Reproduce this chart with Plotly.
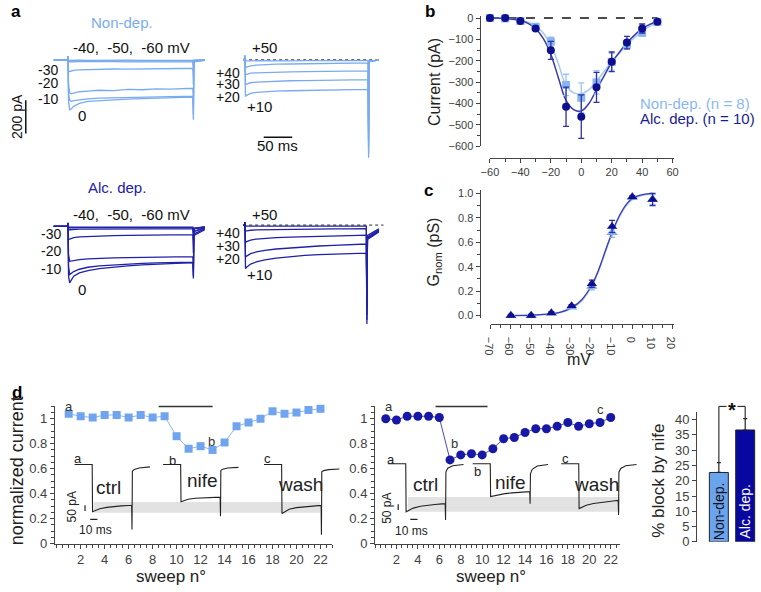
import plotly.graph_objects as go

# ---------------- data ----------------
# panel a : example Ca2+ current traces (time in ms, current in pA)
a_t_left = [-25, -1, 0, 1, 3, 6, 10, 20, 35, 55, 80, 105, 130, 155, 180, 200, 219, 220, 221, 240]
a_nd_left = [  # -60, -50, -40, -30, -20, -10, 0 mV
    [0, 0, 20, -2, -3, -2, -3, -2, -3, -2, -3, -2, -3, -2, -3, -2, -3, -20, -2, -1],
    [0, 0, 20, -6, -7, -6, -7, -6, -6, -7, -6, -6, -7, -6, -6, -7, -6, -40, -3, -1],
    [0, 0, 22, -10, -12, -11, -12, -11, -12, -11, -11, -12, -11, -11, -12, -11, -11, -70, -4, -1],
    [0, 0, 22, -68, -70, -66, -63, -60, -58, -57, -55, -56, -54, -53, -54, -52, -52, -150, -6, -2],
    [0, 0, 20, -150, -200, -205, -200, -192, -188, -183, -185, -178, -180, -175, -176, -172, -171, -260, -8, -2],
    [0, 0, 18, -200, -245, -250, -246, -240, -235, -230, -228, -226, -224, -222, -220, -219, -218, -330, -10, -2],
    [0, 0, 15, -250, -300, -295, -280, -262, -250, -245, -240, -236, -234, -230, -228, -226, -225, -360, -12, -3],
]
a_alc_left = [
    [0, 0, 20, -4, -5, -4, -5, -4, -5, -4, -4, -5, -4, -4, -5, -4, -4, -20, -30, -10],
    [0, 0, 20, -8, -9, -8, -9, -8, -8, -9, -8, -8, -9, -8, -8, -9, -8, -40, -45, -15],
    [0, 0, 22, -18, -20, -19, -18, -17, -17, -16, -16, -16, -15, -15, -15, -15, -15, -80, -55, -20],
    [0, 0, 22, -78, -76, -72, -68, -63, -60, -57, -55, -54, -52, -51, -50, -50, -49, -160, -30, -8],
    [0, 0, 20, -170, -210, -208, -204, -200, -196, -192, -190, -188, -186, -185, -184, -183, -182, -250, -15, -4],
    [0, 0, 18, -240, -290, -282, -272, -258, -246, -238, -232, -227, -223, -220, -218, -217, -216, -300, -12, -3],
    [0, 0, 15, -300, -340, -322, -300, -280, -266, -254, -245, -238, -232, -227, -223, -220, -218, -313, -12, -3],
]
a_t_right_nd = [-3, -1, 0, 1, 3, 6, 10, 20, 35, 55, 80, 105, 130, 155, 180, 200, 216, 217, 218, 235]
a_nd_right = [  # +50, +40, +30, +20, +10 mV
    [0, 0, 25, -8, -6, -5, -6, -5, -6, -5, -6, -5, -5, -6, -5, -5, -5, -590, -10, -2],
    [0, 0, 25, -47, -44, -40, -36, -32, -28, -26, -25, -23, -22, -21, -20, -19, -18, -420, -8, -2],
    [0, 0, 25, -90, -87, -84, -80, -78, -76, -74, -72, -71, -70, -69, -68, -67, -66, -480, -8, -2],
    [0, 0, 25, -150, -146, -142, -138, -134, -131, -128, -126, -125, -123, -122, -121, -120, -119, -520, -8, -2],
    [0, 0, 25, -218, -214, -208, -202, -196, -192, -188, -186, -184, -182, -181, -180, -179, -178, -560, -8, -2],
]
a_t_right_alc = [-3, -1, 0, 1, 3, 6, 10, 20, 35, 55, 80, 105, 130, 155, 180, 200, 213, 214, 215, 235]
a_alc_right = [
    [0, 0, 20, -5, -4, -4, -5, -4, -4, -5, -4, -4, -4, -5, -4, -4, -4, -594, -60, -20],
    [0, 0, 20, -34, -33, -31, -29, -27, -26, -25, -24, -23, -22, -21, -21, -20, -20, -450, -70, -25],
    [0, 0, 20, -102, -98, -93, -88, -82, -77, -73, -70, -67, -65, -63, -61, -60, -59, -500, -75, -30],
    [0, 0, 20, -191, -185, -178, -170, -160, -150, -142, -135, -129, -124, -120, -117, -114, -112, -540, -80, -35],
    [0, 0, 20, -260, -252, -243, -233, -220, -208, -197, -188, -181, -176, -172, -170, -168, -167, -570, -85, -40],
]
scale_pA = 200
scale_ms = 50

# panel b : I-V relation
volts_b = [-60, -50, -40, -30, -20, -10, 0, 10, 20, 30, 40, 50]
iv_nd = [0, -2, -14, -41, -110, -313, -373, -301, -205, -125, -69, -18]
iv_nd_err = [2, 2, 4, 8, 20, 50, 70, 55, 40, 22, 15, 5]
iv_alc = [0, 0, -14, -49, -151, -415, -461, -324, -205, -115, -49, -18]
iv_alc_err = [2, 2, 5, 10, 42, 92, 102, 70, 46, 29, 21, 5]
fit_v_b = [-60, -50, -40, -35, -30, -25, -20, -15, -10, -5, 0, 5, 10, 15, 20, 25, 30, 35, 40, 45, 50]
fit_nd_b = [0, -2, -11, -20, -38, -70, -125, -215, -315, -350, -355, -335, -295, -250, -205, -165, -125, -92, -62, -38, -18]
fit_alc_b = [0, -2, -12, -25, -50, -95, -170, -280, -385, -428, -435, -400, -335, -270, -208, -160, -116, -80, -50, -30, -15]

# panel c : normalized conductance
volts_c = [-60, -50, -40, -30, -20, -10, 0, 10]
g_nd = [0.0, 0.0, 0.02, 0.07, 0.24, 0.68, 0.97, 0.95]
g_nd_err = [0.01, 0.01, 0.01, 0.01, 0.03, 0.04, 0.01, 0.04]
g_alc = [0.0, 0.0, 0.02, 0.08, 0.26, 0.73, 0.97, 0.95]
g_alc_err = [0.01, 0.01, 0.01, 0.01, 0.03, 0.05, 0.01, 0.05]
fit_v_c = [-60, -50, -40, -35, -30, -25, -20, -17.5, -15, -12.5, -10, -7.5, -5, -2.5, 0, 5, 10]
fit_nd_c = [0, 0.003, 0.013, 0.027, 0.06, 0.12, 0.24, 0.33, 0.44, 0.56, 0.67, 0.77, 0.85, 0.91, 0.95, 0.985, 0.995]
fit_alc_c = [0, 0.003, 0.015, 0.03, 0.065, 0.13, 0.25, 0.34, 0.45, 0.57, 0.68, 0.78, 0.86, 0.92, 0.96, 0.99, 1.0]

# panel d : time course of nifedipine block
sweeps = list(range(1, 23))
norm_nd = [1.04, 1.02, 1.01, 1.03, 1.03, 1.01, 1.03, 1.01, 1.02, 0.86, 0.76, 0.78, 0.75, 0.81, 0.94, 0.97, 1.00,
           1.06, 1.04, 1.05, 1.07, 1.08]
norm_alc = [1.00, 0.99, 1.02, 1.02, 1.02, 1.01, 0.67, 0.71, 0.72, 0.71, 0.76, 0.84, 0.85, 0.89, 0.92, 0.92, 0.94,
            0.97, 0.94, 0.96, 0.97, 1.01]
nife_nd = [8.5, 13.0]
nife_alc = [5.65, 10.5]
# inset current traces (ms, pA)
in_t = [-25, -0.5, 0, 2, 5, 10, 20, 30, 40, 50, 54.5, 55, 55.5, 58, 65, 80]
in_nd_ctrl = [0, 0, -425, -420, -410, -398, -385, -377, -372, -368, -366, -585, -60, -45, -32, -22]
in_nd_nife = [0, 0, -334, -330, -322, -312, -303, -299, -296, -294, -293, -466, -55, -42, -32, -26]
in_nd_wash = [0, 0, -440, -432, -418, -402, -388, -380, -374, -369, -367, -631, -66, -55, -46, -40]
in_alc_ctrl = [0, 0, -431, -425, -412, -398, -382, -372, -365, -360, -358, -505, -72, -40, -18, -6]
in_alc_nife = [0, 0, -294, -291, -285, -278, -268, -261, -256, -252, -250, -358, -90, -50, -20, -6]
in_alc_wash = [0, 0, -402, -396, -385, -372, -356, -346, -338, -332, -329, -461, -75, -42, -18, -6]
in_scale_pA = 50
in_scale_ms = 10

# panel d right : % block
groups = ["Non-dep.", "Alc. dep."]
block = [22.7, 36.6]
block_err = [3.2, 3.7]

# ---------------- style / layout helpers ----------------
W, H = 761, 592
FONT = "Arial, Liberation Sans, sans-serif"
LIGHT_TR = "#7aabf0"
DARK_TR = "#2020a8"
LIGHT_M = "#86b5f2"
DARK_M = "#0e0e8e"
SQ = "#70a4ee"
CIR = "#1818a6"
BAR_L = "#6aa3ee"
BAR_D = "#0808a0"
AX = "#444444"
TK = "#404040"


def dx(l, r):
    return [l / W, r / W]


def dy(t, b):
    return [1 - b / H, 1 - t / H]


def px(x):
    return x / W


def py(y):
    return 1 - y / H


fig = go.Figure()


def sc(**kw):
    fig.add_trace(go.Scatter(showlegend=False, hoverinfo="skip", **kw))


ann = []


def txt(x, y, s, size=15, color="#111", angle=0, xref="paper", yref="paper", bold=False, **kw):
    if bold:
        s = "<b>" + s + "</b>"
    d = dict(x=x, y=y, text=s, xref=xref, yref=yref, showarrow=False, textangle=angle,
             font=dict(family=FONT, size=size, color=color), xanchor="center", yanchor="middle")
    d.update(kw)
    ann.append(d)


shapes = []

# ---------------- panel a ----------------
for I in a_nd_left:
    sc(x=a_t_left, y=I, mode="lines", line=dict(color=LIGHT_TR, width=1.3), xaxis="x6", yaxis="y6")
sc(x=[a_t_right_nd[0], a_t_right_nd[-1]], y=[0, 0], mode="lines",
   line=dict(color="#222", width=1, dash="dot"), xaxis="x7", yaxis="y7")
for I in a_nd_right:
    sc(x=a_t_right_nd, y=I, mode="lines", line=dict(color=LIGHT_TR, width=1.3), xaxis="x7", yaxis="y7")
for I in a_alc_left:
    sc(x=a_t_left, y=I, mode="lines", line=dict(color=DARK_TR, width=1.3), xaxis="x8", yaxis="y8")
for I in a_alc_right:
    sc(x=a_t_right_alc, y=I, mode="lines", line=dict(color=DARK_TR, width=1.3), xaxis="x9", yaxis="y9")
sc(x=[a_t_right_alc[0], a_t_right_alc[-1] + 8], y=[2, 2], mode="lines",
   line=dict(color="#222", width=1, dash="dot"), xaxis="x9", yaxis="y9")

# scale bars
shapes.append(dict(type="line", xref="x6", yref="y6", x0=-74, x1=-74, y0=-244, y1=-244 - scale_pA,
                   line=dict(color="#111", width=1.5)))
shapes.append(dict(type="line", xref="x7", yref="y7", x0=33, x1=33 + scale_ms, y0=-466, y1=-466,
                   line=dict(color="#111", width=1.5)))
txt(px(7.5), py(115), "%d pA" % scale_pA, size=14, angle=-90)
txt(px(273), py(144), "%d ms" % scale_ms, size=15)

txt(px(115), py(19), "Non-dep.", size=15, color=LIGHT_TR)
txt(px(110), py(187), "Alc. dep.", size=15, color=DARK_TR)
for yy in (44, 215):
    txt(px(125), py(yy), "-40,  -50,  -60 mV", size=15)
for s, yy in (("-30", 67), ("-20", 80.5), ("-10", 97)):
    txt(px(40), py(yy), s, size=14)
txt(px(74), py(114), "0", size=15)
for s, yy in (("-30", 235), ("-20", 252), ("-10", 270)):
    txt(px(43), py(yy), s, size=14)
txt(px(74), py(291), "0", size=15)
txt(px(260), py(44), "+50", size=15)
for s, yy in (("+40", 70), ("+30", 82), ("+20", 95)):
    txt(px(222.7), py(yy), s, size=14)
txt(px(255), py(104.5), "+10", size=15)
txt(px(260), py(215), "+50", size=15)
for s, yy in (("+40", 233.5), ("+30", 247.5), ("+20", 260.5)):
    txt(px(222.7), py(yy), s, size=14)
txt(px(255), py(276.5), "+10", size=15)

# ---------------- panel b ----------------
sc(x=[volts_b[0], volts_b[-1]], y=[0, 0], mode="lines", line=dict(color="#111", width=1.5, dash="dash"),
   xaxis="x", yaxis="y")
sc(x=fit_v_b, y=fit_nd_b, mode="lines", line=dict(color="#a5c8f6", width=1.5, shape="spline"), xaxis="x", yaxis="y")
sc(x=fit_v_b, y=fit_alc_b, mode="lines", line=dict(color="#3a3ab4", width=1.5, shape="spline"), xaxis="x", yaxis="y")
sc(x=volts_b, y=iv_nd, mode="markers", marker=dict(symbol="square", size=8, color=LIGHT_M),
   error_y=dict(type="data", array=iv_nd_err, color="#9cc2f5", thickness=1.3, width=3),
   cliponaxis=False, xaxis="x", yaxis="y")
sc(x=volts_b, y=iv_alc, mode="markers", marker=dict(symbol="circle", size=8, color=DARK_M),
   error_y=dict(type="data", array=iv_alc_err, color="#3030a0", thickness=1.3, width=3),
   cliponaxis=False, xaxis="x", yaxis="y")
txt(px(433), py(80), "Current (pA)", size=16, color="#222", angle=-90)
txt(px(698), py(101.5), "Non-dep. (n = 8)", size=15, color="#8ab8f3")
txt(px(700), py(117), "Alc. dep. (n = 10)", size=15, color="#1c1c96")

# ---------------- panel c ----------------
sc(x=fit_v_c, y=fit_nd_c, mode="lines", line=dict(color="#9cc2f5", width=1.5, shape="spline"), xaxis="x2", yaxis="y2")
sc(x=fit_v_c, y=fit_alc_c, mode="lines", line=dict(color="#3a3ab4", width=1.3, shape="spline"), xaxis="x2", yaxis="y2")
sc(x=volts_c, y=g_nd, mode="markers", marker=dict(symbol="triangle-up", size=10, color="#7ea9ea"),
   error_y=dict(type="data", array=g_nd_err, color="#8ab4ee", thickness=1.2, width=3),
   cliponaxis=False, xaxis="x2", yaxis="y2")
sc(x=volts_c, y=g_alc, mode="markers", marker=dict(symbol="triangle-up", size=9, color=DARK_M),
   error_y=dict(type="data", array=g_alc_err, color="#2a2a9a", thickness=1.2, width=3),
   cliponaxis=False, xaxis="x2", yaxis="y2")
txt(px(433), py(253), "G<sub>nom</sub> (pS)", size=16, color="#222", angle=-90)
txt(px(580), py(363), "mV", size=16, color="#222")

# ---------------- panel d ----------------
sc(x=sweeps, y=norm_nd, mode="lines+markers", line=dict(color="#8ab6f2", width=1),
   marker=dict(symbol="square", size=8, color=SQ), cliponaxis=False, xaxis="x3", yaxis="y3")
sc(x=sweeps, y=norm_alc, mode="lines+markers", line=dict(color="#4a4ac0", width=1),
   marker=dict(symbol="circle", size=9, color=CIR), cliponaxis=False, xaxis="x4", yaxis="y4")

R3 = [-0.15, 23.0]
R4 = [0.0, 22.9]
for (r, ax, nife, lab) in ((R3, "x3", nife_nd, ((1.05, 1.099, "a"), (12.9, 0.816, "b"), (20.1, 1.144, "c"))),
                           (R4, "x4", nife_alc, ((1.3, 1.099, "a"), (7.4, 0.80, "b"), (21.0, 1.077, "c")))):
    yax = "y" + ax[1:]
    f0 = (nife[0] - r[0]) / (r[1] - r[0])
    f1 = (nife[1] - r[0]) / (r[1] - r[0])
    shapes.append(dict(type="line", xref=ax + " domain", yref=yax + " domain", x0=f0, x1=f1, y0=0.999, y1=0.999,
                       line=dict(color="#333", width=1.5)))
    txt((nife[0] + nife[1]) / 2, 1.183, "nife (3 µM)", size=17, color="#111", xref=ax, yref=yax)
    for (xx, yy, s) in lab:
        txt(xx, yy, s, size=13, color="#333", xref=ax, yref=yax)

# insets
for (xa, ya, traces, offs, col) in (("x10", "y10", (in_nd_ctrl, in_nd_nife, in_nd_wash), (0, 123.3, 264.0), "#222"),
                                    ("x11", "y11", (in_alc_ctrl, in_alc_nife, in_alc_wash), (0, 117.8, 241.1), "#222")):
    for I, o in zip(traces, offs):
        sc(x=[t + o for t in in_t], y=I, mode="lines", line=dict(color=col, width=1.1), xaxis=xa, yaxis=ya)

shapes.append(dict(type="rect", xref="x10", yref="y10", x0=1.4, x1=317, y0=-337, y1=-434,
                   fillcolor="#e2e2e2", line=dict(width=0), layer="below"))
shapes.append(dict(type="rect", xref="x11", yref="y11", x0=2.7, x1=298, y0=-299, y1=-431,
                   fillcolor="#e2e2e2", line=dict(width=0), layer="below"))
# inset scale bars
shapes.append(dict(type="line", xref="x10", yref="y10", x0=-10.5, x1=-10.5, y0=-367, y1=-367 - in_scale_pA,
                   line=dict(color="#222", width=1.2)))
shapes.append(dict(type="line", xref="x10", yref="y10", x0=-3.2, x1=-3.2 + in_scale_ms, y0=-493, y1=-493,
                   line=dict(color="#222", width=1.2)))
shapes.append(dict(type="line", xref="x11", yref="y11", x0=-11, x1=-11, y0=-364, y1=-364 - in_scale_pA,
                   line=dict(color="#222", width=1.2)))
shapes.append(dict(type="line", xref="x11", yref="y11", x0=5.9, x1=5.9 + in_scale_ms, y0=-499, y1=-499,
                   line=dict(color="#222", width=1.2)))
txt(-28.8, -378, "%d pA" % in_scale_pA, size=12, color="#222", angle=-90, xref="x10", yref="y10")
txt(4, -587, "%d ms" % in_scale_ms, size=12, color="#222", xref="x10", yref="y10")
txt(-26, -401, "%d pA" % in_scale_pA, size=12, color="#222", angle=-90, xref="x11", yref="y11")
txt(8, -608, "%d ms" % in_scale_ms, size=12, color="#222", xref="x11", yref="y11")
for (xa, ya, items) in (("x10", "y10", ((-20.5, 53, "a", 13), (111, 35, "b", 13), (244, 53, "c", 13),
                                        (22.9, -205, "ctrl", 19), (153, -147, "nife", 19), (290, -176, "wash", 19))),
                        ("x11", "y11", ((-21.5, 37, "a", 13), (100, -73, "b", 13), (222, 46, "c", 13),
                                        (26.4, -185, "ctrl", 19), (145, -167, "nife", 19), (266, -185, "wash", 19)))):
    for (xx, yy, s, fs) in items:
        txt(xx, yy, s, size=fs, color="#222", xref=xa, yref=ya)

txt(px(9), py(476), "normalized current", size=18, color="#222", angle=-90)
txt(px(165), py(584), "sweep n°", size=17, color="#222")
txt(px(490), py(584), "sweep n°", size=17, color="#222")

# bars
fig.add_trace(go.Bar(x=[1, 2], y=block, width=0.72, marker=dict(color=[BAR_L, BAR_D], line=dict(color="#222", width=1)),
                     error_y=dict(type="data", symmetric=False, array=block_err, arrayminus=[0, 0],
                                  color="#222", thickness=1.2, width=2),
                     showlegend=False, hoverinfo="skip", xaxis="x5", yaxis="y5"))
for i, g in enumerate(groups):
    txt(i + 1, 10, g, size=14, color="#111" if i == 0 else "white", angle=-90, xref="x5", yref="y5")
R5x = [0.172, 2.448]
R5y = [0, 42.4]


def fx5(v):
    return (v - R5x[0]) / (R5x[1] - R5x[0])


def fy5(v):
    return (v - R5y[0]) / (R5y[1] - R5y[0])


top = 44.3
for (x0, y0, x1, y1) in ((1, block[0] + block_err[0], 1, top), (1, top, 2, top), (2, top, 2, block[1] + block_err[1])):
    shapes.append(dict(type="line", xref="x5 domain", yref="y5 domain", x0=fx5(x0), x1=fx5(x1), y0=fy5(y0),
                       y1=fy5(y1), line=dict(color="#333", width=1.2)))
txt(fx5(1.5), fy5(top), "*", size=20, color="#111", xref="x5 domain", yref="y5 domain", bgcolor="white",
    yshift=-4, bold=True)
txt(px(660), py(487), "% block by nife", size=17, color="#222", angle=-90)

# panel letters
txt(px(7), py(8), "a", size=17, bold=True, color="#000")
txt(px(428), py(8), "b", size=17, bold=True, color="#000")
txt(px(427), py(190), "c", size=17, bold=True, color="#000")
txt(px(8), py(397), "d", size=17, bold=True, color="#000")

# ---------------- axes ----------------
base = dict(showgrid=False, zeroline=False, showline=True, linecolor=AX, linewidth=1, ticks="outside",
            tickcolor=AX, ticklen=4, tickfont=dict(family=FONT, size=11, color=TK))


def hid(xl, xr, yt, yb, ox, by, msp, pap):
    return (dict(visible=False, domain=dx(xl, xr), range=[(xl - ox) * msp, (xr - ox) * msp]),
            dict(visible=False, domain=dy(yt, yb), range=[-(yb - by) * pap, (by - yt) * pap]))


layout = dict(
    width=W, height=H, margin=dict(l=0, r=0, t=0, b=0), paper_bgcolor="white", plot_bgcolor="rgba(0,0,0,0)",
    showlegend=False, font=dict(family=FONT),
    xaxis=dict(domain=dx(489.3, 677), range=[-60, 61.2], anchor="free", position=py(156.7), tick0=-60, dtick=20,
               minor=dict(tick0=-60, dtick=10, ticks="outside", ticklen=3, tickcolor=AX), **base),
    yaxis=dict(domain=dy(12.55, 145.3), range=[-600, 8], anchor="free", position=px(478.7), tick0=0, dtick=100,
               minor=dict(tick0=0, dtick=50, ticks="outside", ticklen=3, tickcolor=AX), **base),
    xaxis2=dict(domain=dx(490, 677), range=[-70, 20.8], anchor="free", position=py(326.7), tick0=-70, dtick=10,
                minor=dict(tick0=-70, dtick=5, ticks="outside", ticklen=3, tickcolor=AX), **base),
    yaxis2=dict(domain=dy(189.6, 320.5), range=[-0.02, 1.03], anchor="free", position=px(478.7), tick0=0, dtick=0.2,
                tickformat=".1f", minor=dict(tick0=0, dtick=0.1, ticks="outside", ticklen=3, tickcolor=AX), **base),
    xaxis3=dict(domain=dx(46.7, 329.1), range=R3, anchor="y3", tickmode="array", tickvals=list(range(2, 23, 2)),
                minor=dict(tickmode="linear", tick0=0, dtick=0.5, ticks="outside", ticklen=3, tickcolor=AX),
                **{**base, "tickfont": dict(family=FONT, size=13, color=TK)}),
    yaxis3=dict(domain=dy(410.6, 550.7), range=[0, 1.1], anchor="x3", tick0=0, dtick=0.2,
                minor=dict(tick0=0, dtick=0.05, ticks="outside", ticklen=3, tickcolor=AX),
                **{**base, "tickfont": dict(family=FONT, size=13, color=TK)}),
    xaxis4=dict(domain=dx(372.4, 622), range=R4, anchor="y4", tickmode="array", tickvals=list(range(2, 23, 2)),
                minor=dict(tickmode="linear", tick0=0, dtick=0.5, ticks="outside", ticklen=3, tickcolor=AX),
                **{**base, "tickfont": dict(family=FONT, size=13, color=TK)}),
    yaxis4=dict(domain=dy(410.6, 550.7), range=[0, 1.1], anchor="x4", tick0=0, dtick=0.2,
                minor=dict(tick0=0, dtick=0.05, ticks="outside", ticklen=3, tickcolor=AX),
                **{**base, "tickfont": dict(family=FONT, size=13, color=TK)}),
    xaxis5=dict(domain=dx(700, 761), range=R5x, anchor="y5", visible=False),
    yaxis5=dict(domain=dy(416.7, 549), range=R5y, anchor="x5", tick0=0, dtick=5,
                **{**base, "tickfont": dict(family=FONT, size=13, color=TK)}),
    annotations=ann, shapes=shapes,
)
for n, args in ((6, (5, 210, 35, 140, 60, 57, 1 / 0.58, 5.9)),
                (7, (225, 385, 35, 165, 240, 57, 1 / 0.58, 5.9)),
                (8, (5, 210, 205, 300, 60, 227, 1 / 0.58, 5.9)),
                (9, (225, 385, 205, 335, 240, 226, 1 / 0.58, 5.9)),
                (10, (50, 340, 452, 548, 85, 470, 1 / 0.73, 8.8)),
                (11, (370, 660, 452, 548, 404, 469.3, 1 / 0.73, 8.8))):
    xa, ya = hid(*args)
    xa["anchor"] = "y%d" % n
    ya["anchor"] = "x%d" % n
    layout["xaxis%d" % n] = xa
    layout["yaxis%d" % n] = ya

fig.update_layout(**layout)
fig.write_html("out.html", config={"displayModeBar": False, "staticPlot": True},
               post_script="document.body.style.margin='0px';document.body.style.overflow='hidden';")
